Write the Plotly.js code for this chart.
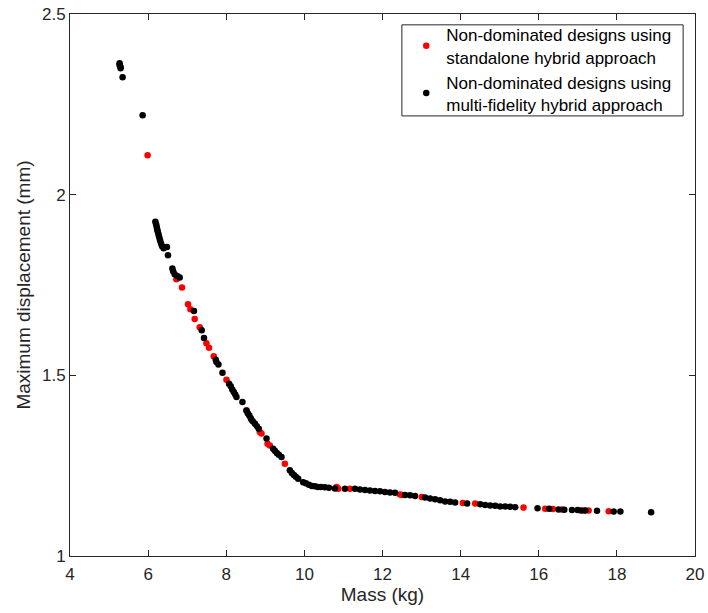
<!DOCTYPE html>
<html>
<head>
<meta charset="utf-8">
<script src="https://cdn.plot.ly/plotly-3.0.1.min.js"></script>
<style>html,body{margin:0;padding:0;background:#fff;}#chart{width:708px;height:613px;}</style>
</head>
<body>
<div id="chart"></div>
<script>
// Non-dominated designs using standalone hybrid approach (red)
const standaloneMass = [5.987, 6.723, 6.867, 7.021, 7.082, 7.192, 7.321, 7.492, 7.559, 7.679, 8.005, 8.518, 8.646, 8.859, 8.903, 9.056, 9.115, 9.500, 10.826, 10.867, 11.167, 12.449, 12.5, 13.005, 14.056, 14.372, 15.610, 16.167, 16.364, 16.595, 17.149, 17.277, 17.790];
const standaloneDisp = [2.109, 1.766, 1.743, 1.697, 1.683, 1.656, 1.633, 1.589, 1.576, 1.553, 1.488, 1.403, 1.377, 1.343, 1.339, 1.311, 1.306, 1.255, 1.191, 1.186, 1.186, 1.170, 1.169, 1.163, 1.147, 1.145, 1.134, 1.131, 1.130, 1.129, 1.126, 1.126, 1.124];

// Non-dominated designs using multi-fidelity hybrid approach (black)
const multiMass = [5.269, 5.269, 5.295, 5.295, 5.346, 5.859, 6.185, 6.205, 6.218, 6.231, 6.244, 6.262, 6.277, 6.295, 6.313, 6.333, 6.359, 6.397, 6.482, 6.508, 6.621, 6.641, 6.679, 6.756, 6.808, 7.174, 7.372, 7.431, 7.731, 7.749, 7.800, 7.903, 8.072, 8.115, 8.154, 8.192, 8.231, 8.262, 8.415, 8.518, 8.551, 8.590, 8.628, 8.679, 8.731, 8.782, 8.833, 9.031, 9.200, 9.244, 9.295, 9.346, 9.415, 9.628, 9.679, 9.731, 9.782, 9.841, 9.969, 10.038, 10.115, 10.192, 10.269, 10.346, 10.423, 10.526, 10.628, 10.782, 11.038, 11.295, 11.423, 11.551, 11.679, 11.808, 11.936, 12.064, 12.192, 12.321, 12.577, 12.705, 12.833, 13.090, 13.218, 13.346, 13.474, 13.603, 13.731, 13.859, 14.167, 14.500, 14.628, 14.756, 14.885, 15.013, 15.141, 15.269, 15.397, 15.969, 16.269, 16.508, 16.654, 16.851, 16.995, 17.082, 17.192, 17.492, 17.918, 18.090, 18.877];
const multiDisp = [2.364, 2.359, 2.353, 2.350, 2.325, 2.220, 1.925, 1.918, 1.911, 1.904, 1.899, 1.892, 1.885, 1.878, 1.871, 1.864, 1.857, 1.852, 1.855, 1.832, 1.796, 1.788, 1.780, 1.774, 1.771, 1.678, 1.625, 1.603, 1.543, 1.537, 1.530, 1.507, 1.477, 1.470, 1.461, 1.454, 1.447, 1.440, 1.426, 1.403, 1.395, 1.389, 1.381, 1.373, 1.367, 1.359, 1.352, 1.325, 1.297, 1.291, 1.285, 1.280, 1.274, 1.237, 1.230, 1.224, 1.219, 1.214, 1.204, 1.201, 1.197, 1.194, 1.193, 1.191, 1.191, 1.190, 1.189, 1.187, 1.186, 1.186, 1.184, 1.183, 1.181, 1.180, 1.179, 1.177, 1.176, 1.175, 1.169, 1.168, 1.166, 1.162, 1.159, 1.157, 1.154, 1.151, 1.150, 1.148, 1.145, 1.143, 1.141, 1.140, 1.139, 1.137, 1.137, 1.136, 1.135, 1.132, 1.131, 1.129, 1.128, 1.127, 1.127, 1.126, 1.126, 1.125, 1.123, 1.123, 1.121];

const seriesNames = ['Non-dominated designs using<br>standalone hybrid approach', 'Non-dominated designs using<br>multi-fidelity hybrid approach'];
const xTicks = [4, 6, 8, 10, 12, 14, 16, 18, 20];
const yTicks = [1, 1.5, 2, 2.5];
const yTickText = ['1', '1.5', '2', '2.5'];

const FONT = 'Liberation Sans, Arial, Helvetica, sans-serif';
const AX = '#262626';

const traces = [
  {x: standaloneMass, y: standaloneDisp, type: 'scatter', mode: 'markers', name: seriesNames[0],
   marker: {color: '#ff0000', size: 6.5}},
  {x: multiMass, y: multiDisp, type: 'scatter', mode: 'markers', name: seriesNames[1],
   marker: {color: '#000000', size: 6.5}}
];

const axisCommon = {
  showline: true, linecolor: AX, linewidth: 1, mirror: 'ticks',
  ticks: 'inside', ticklen: 6, tickwidth: 1, tickcolor: AX,
  showgrid: false, zeroline: false,
  tickfont: {family: FONT, size: 17, color: AX}
};

const layout = {
  width: 708, height: 613,
  margin: {l: 70, r: 13, t: 14, b: 57, pad: 0},
  paper_bgcolor: '#ffffff', plot_bgcolor: '#ffffff',
  font: {family: FONT, color: AX},
  showlegend: true,
  xaxis: Object.assign({}, axisCommon, {
    range: [4, 20], tickvals: xTicks, ticktext: xTicks.map(String),
    ticklabelstandoff: 3,
    title: {text: 'Mass (kg)', font: {family: FONT, size: 19, color: AX}, standoff: 2}
  }),
  yaxis: Object.assign({}, axisCommon, {
    range: [1, 2.5], tickvals: yTicks, ticktext: yTickText,
    title: {text: 'Maximum displacement (mm)', font: {family: FONT, size: 19, color: AX}, standoff: 6}
  }),
  legend: {
    x: 0.538, y: 0.994, xanchor: 'left', yanchor: 'top',
    bgcolor: 'rgba(0,0,0,0)', borderwidth: 0,
    font: {family: FONT, size: 17, color: '#000000'},
    itemsizing: 'trace', tracegroupgap: 0
  },
  shapes: [{
    type: 'rect', xref: 'paper', yref: 'paper', layer: 'below',
    x0: 0.531, x1: 0.981, y0: 0.812, y1: 0.980,
    line: {color: AX, width: 1}, fillcolor: '#ffffff'
  }]
};

Plotly.newPlot('chart', traces, layout, {displayModeBar: false, staticPlot: true});
</script>
</body>
</html>
